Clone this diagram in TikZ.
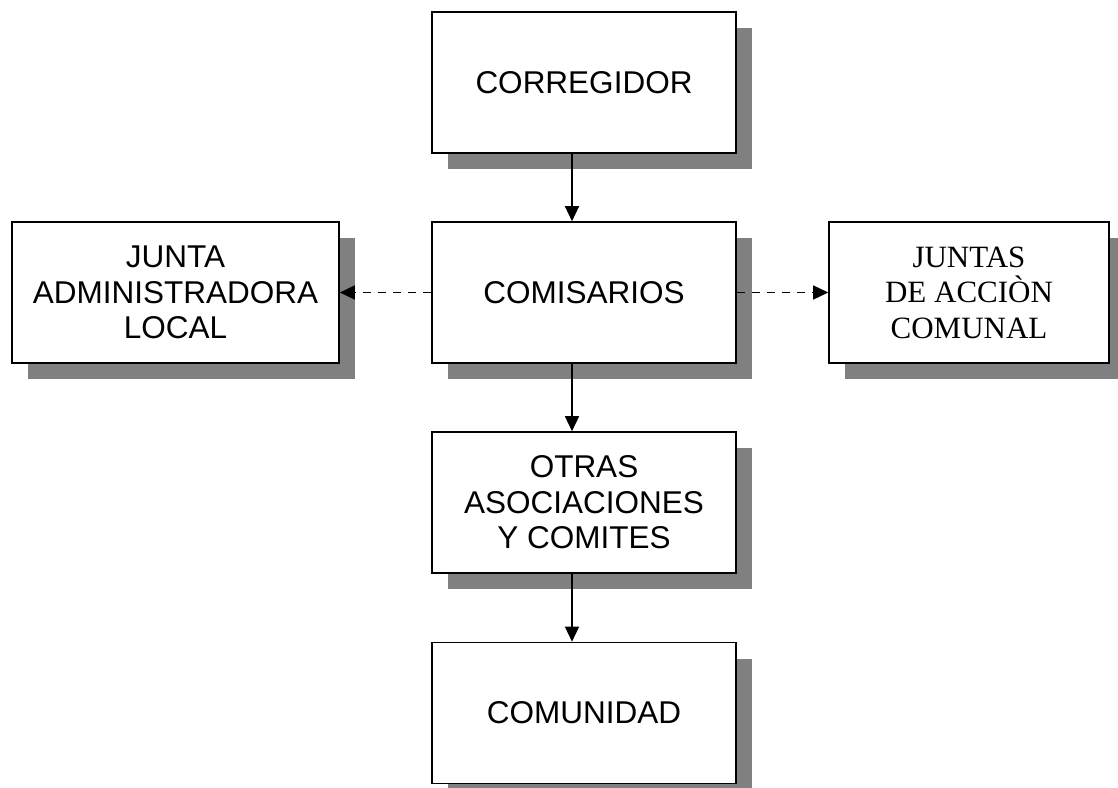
\documentclass[tikz,border=0pt]{standalone}
\usepackage{fontspec}
\setmainfont{Liberation Sans}
\newfontfamily\timesfont{Liberation Serif}
\usetikzlibrary{arrows.meta,shadows}

\tikzset{
  box/.style={draw,line width=1.6pt,fill=white,align=center,
    minimum width=304pt,minimum height=141pt,inner sep=0pt,
    font=\fontsize{31.5}{35.5}\selectfont,
    drop shadow={shadow xshift=16pt,shadow yshift=-16pt,fill=gray,opacity=1}},
  link/.style={line width=1.4pt,-{Triangle[width=14pt,length=15pt]}},
  dashlink/.style={link,dash pattern=on 8pt off 7pt}
}

\begin{document}
\begin{tikzpicture}[x=1pt,y=-1pt]
  \path[use as bounding box] (0,0) rectangle (1118,787);

  \node[box] (corr) at (584,82.5) {CORREGIDOR};
  \node[box] (comis) at (584,292.5) {COMISARIOS};
  \node[box,minimum width=327pt] (junta) at (175.5,292.5) {JUNTA\\ADMINISTRADORA\\LOCAL};
  \node[box,minimum width=280pt,font=\timesfont\fontsize{31}{35.5}\selectfont] (juntas) at (969,292.5) {JUNTAS\\DE ACCIÒN\\COMUNAL};
  \node[box] (otras) at (584,502.5) {OTRAS\\ASOCIACIONES\\Y COMITES};
  \node[box] (comun) at (584,713) {COMUNIDAD};

  \draw[link] ([xshift=-12pt]corr.south) -- ([xshift=-12pt]comis.north);
  \draw[link] ([xshift=-12pt]comis.south) -- ([xshift=-12pt]otras.north);
  \draw[link] ([xshift=-12pt]otras.south) -- ([xshift=-12pt]comun.north);
  \draw[dashlink] (comis.west) -- (junta.east);
  \draw[dashlink] (comis.east) -- (juntas.west);
\end{tikzpicture}
\end{document}
